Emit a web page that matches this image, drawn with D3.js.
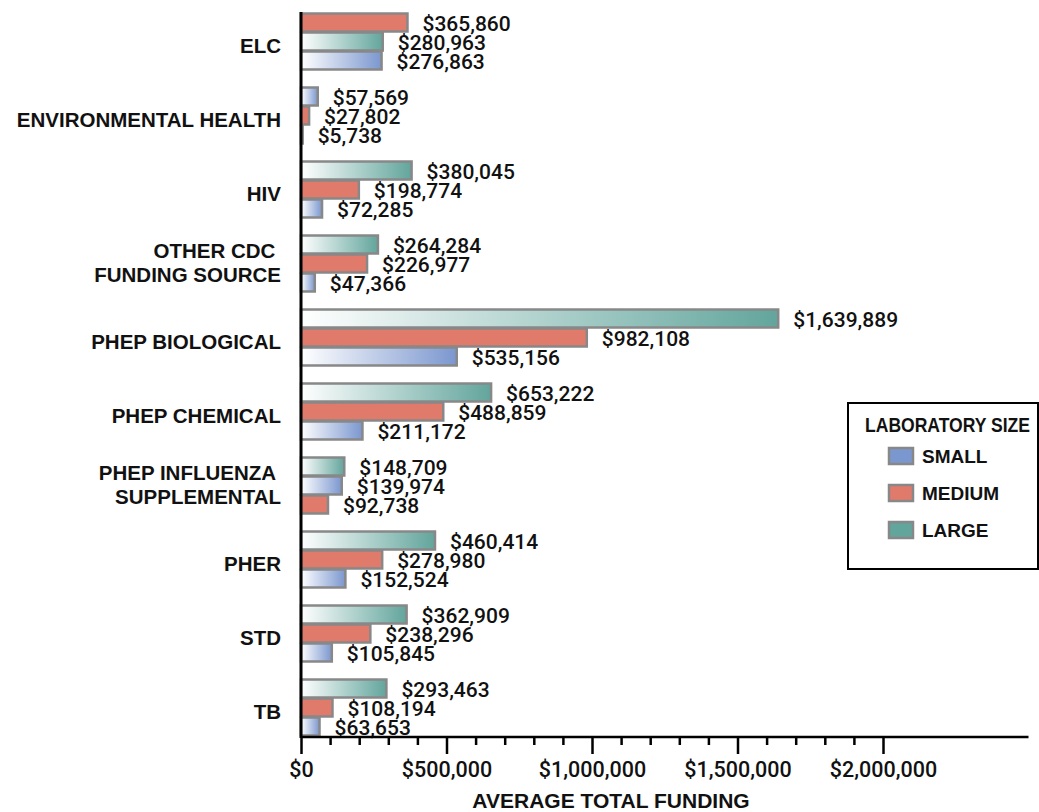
<!DOCTYPE html>
<html>
<head>
<meta charset="utf-8">
<script src="https://cdn.jsdelivr.net/npm/d3@7"></script>
<style>
  html, body { margin: 0; padding: 0; background: #fff; }
  svg { display: block; }
</style>
</head>
<body>
<svg id="chart" width="1039" height="812"></svg>
<script>
// Average total funding by funding source and laboratory size
const categories = [
  ["ELC"],
  ["ENVIRONMENTAL HEALTH"],
  ["HIV"],
  ["OTHER CDC ", "FUNDING SOURCE"],
  ["PHEP BIOLOGICAL"],
  ["PHEP CHEMICAL"],
  ["PHEP INFLUENZA ", "SUPPLEMENTAL"],
  ["PHER"],
  ["STD"],
  ["TB"]
];
const sizes = ["SMALL", "MEDIUM", "LARGE"];
const smallValues  = [276863, 57569, 72285, 47366, 535156, 211172, 139974, 152524, 105845, 63653];
const mediumValues = [365860, 27802, 198774, 226977, 982108, 488859, 92738, 278980, 238296, 108194];
const largeValues  = [280963, 5738, 380045, 264284, 1639889, 653222, 148709, 460414, 362909, 293463];
const tickValues = [0, 500000, 1000000, 1500000, 2000000];
const xTitle = "AVERAGE TOTAL FUNDING";
const legendTitle = "LABORATORY SIZE";

const colors = { SMALL: "#7b97cf", MEDIUM: "#e07b6c", LARGE: "#62a59c" };
const gradientFor = { SMALL: "url(#gSmall)", MEDIUM: colors.MEDIUM, LARGE: "url(#gLarge)" };

const svg = d3.select("#chart");
const labelFont = "'Liberation Sans', Arial, sans-serif";
const numFont = "Roboto, 'Liberation Sans', Arial, sans-serif";

// gradients: white at the base of the bar to full colour at its end
const defs = svg.append("defs");
[["gSmall", colors.SMALL], ["gLarge", colors.LARGE]].forEach(([id, c]) => {
  const g = defs.append("linearGradient").attr("id", id)
    .attr("x1", 0).attr("x2", 1).attr("y1", 0).attr("y2", 0);
  g.append("stop").attr("offset", "0%").attr("stop-color", "#ffffff");
  g.append("stop").attr("offset", "100%").attr("stop-color", c);
});

const x = d3.scaleLinear().domain([0, 2500000]).range([301, 1028.5]);
const y0 = d3.scaleBand().domain(d3.range(categories.length)).range([4, 744])
  .paddingInner(0.23).paddingOuter(0.115);
const y1 = d3.scaleBand().domain([0, 1, 2]).range([0, y0.bandwidth()]);

const rows = categories.map((c, i) => {
  const items = [
    { size: "SMALL", value: smallValues[i] },
    { size: "MEDIUM", value: mediumValues[i] },
    { size: "LARGE", value: largeValues[i] }
  ].sort((a, b) => b.value - a.value);
  return { i, lines: c, items };
});

const fmt = v => "$" + d3.format(",")(v);

// bars and value labels
const groups = svg.append("g").selectAll("g").data(rows).join("g")
  .attr("transform", d => `translate(0,${y0(d.i)})`);

groups.selectAll("rect").data(d => d.items.map((it, k) => ({ ...it, k }))).join("rect")
  .attr("x", x(0))
  .attr("y", d => y1(d.k) + 1)
  .attr("width", d => x(d.value) - x(0))
  .attr("height", y1.bandwidth() - 1)
  .attr("fill", d => gradientFor[d.size])
  .attr("stroke", "#888888")
  .attr("stroke-width", 2.5);

groups.selectAll("text.val").data(d => d.items.map((it, k) => ({ ...it, k }))).join("text")
  .attr("class", "val")
  .attr("x", d => x(d.value) + 15)
  .attr("y", d => y1(d.k) + y1.bandwidth() / 2 + 1)
  .attr("dy", "0.36em")
  .attr("font-family", numFont)
  .attr("font-weight", 500)
  .attr("font-size", 21)
  .attr("fill", "#111")
  .text(d => fmt(d.value));

// category labels
const catLabels = svg.append("g").selectAll("text").data(rows).join("text")
  .attr("text-anchor", "end")
  .attr("font-family", labelFont)
  .attr("font-weight", "bold")
  .attr("font-size", 20.5)
  .attr("fill", "#111")
  .style("white-space", "pre");
catLabels.each(function(d) {
  const cy = y0(d.i) + y0.bandwidth() / 2;
  const t = d3.select(this);
  if (d.lines.length === 1) {
    t.append("tspan").attr("x", 281).attr("y", cy + 12).text(d.lines[0]);
  } else {
    d.lines.forEach((ln, k) => {
      t.append("tspan").attr("x", 281).attr("y", cy - 5 + k * 24).text(ln);
    });
  }
});

// x axis: major ticks every 500,000 with minor ticks every 100,000
const axisY = 737;
const minorVals = d3.range(100000, 2000000, 100000).filter(v => v % 500000 !== 0);
const minorAxis = d3.axisBottom(x).tickValues(minorVals).tickSize(8).tickFormat("");
const majorAxis = d3.axisBottom(x).tickValues(tickValues).tickSize(17).tickPadding(8)
  .tickFormat(v => fmt(v));

const gMinor = svg.append("g").attr("transform", `translate(0,${axisY})`).call(minorAxis);
gMinor.select(".domain").remove();
gMinor.selectAll(".tick line").attr("stroke", "#000").attr("stroke-width", 2.5);

const gMajor = svg.append("g").attr("transform", `translate(0,${axisY})`).call(majorAxis);
gMajor.select(".domain").attr("stroke", "#000").attr("stroke-width", 2.5)
  .attr("d", `M${x(0)},0H${x.range()[1]}`);
gMajor.selectAll(".tick line").attr("stroke", "#000").attr("stroke-width", 2.5);
gMajor.selectAll(".tick text")
  .attr("font-family", numFont).attr("font-weight", 500)
  .attr("font-size", 21.5).attr("fill", "#111");

// vertical axis line
svg.append("line")
  .attr("x1", x(0)).attr("x2", x(0)).attr("y1", 12).attr("y2", axisY + 1)
  .attr("stroke", "#000").attr("stroke-width", 3);

// x axis title
svg.append("text")
  .attr("x", 611).attr("y", 808)
  .attr("text-anchor", "middle")
  .attr("font-family", labelFont).attr("font-weight", "bold")
  .attr("font-size", 21).attr("fill", "#111")
  .text(xTitle);

// legend
const lg = svg.append("g");
lg.append("rect").attr("x", 848).attr("y", 403).attr("width", 190).attr("height", 166)
  .attr("fill", "#fff").attr("stroke", "#000").attr("stroke-width", 2);
lg.append("text").attr("x", 865).attr("y", 432)
  .attr("font-family", labelFont).attr("font-weight", "bold")
  .attr("font-size", 20).attr("textLength", 165).attr("lengthAdjust", "spacingAndGlyphs")
  .attr("fill", "#111").text(legendTitle);
const li = lg.selectAll("g.item").data(sizes).join("g").attr("class", "item")
  .attr("transform", (d, k) => `translate(0,${448 + k * 37})`);
li.append("rect").attr("x", 889).attr("y", 0).attr("width", 24).attr("height", 16)
  .attr("fill", d => colors[d]).attr("stroke", "#888888").attr("stroke-width", 2.5);
li.append("text").attr("x", 922).attr("y", 15)
  .attr("font-family", labelFont).attr("font-weight", "bold")
  .attr("font-size", 19).attr("fill", "#111")
  .text(d => d);
</script>
</body>
</html>
